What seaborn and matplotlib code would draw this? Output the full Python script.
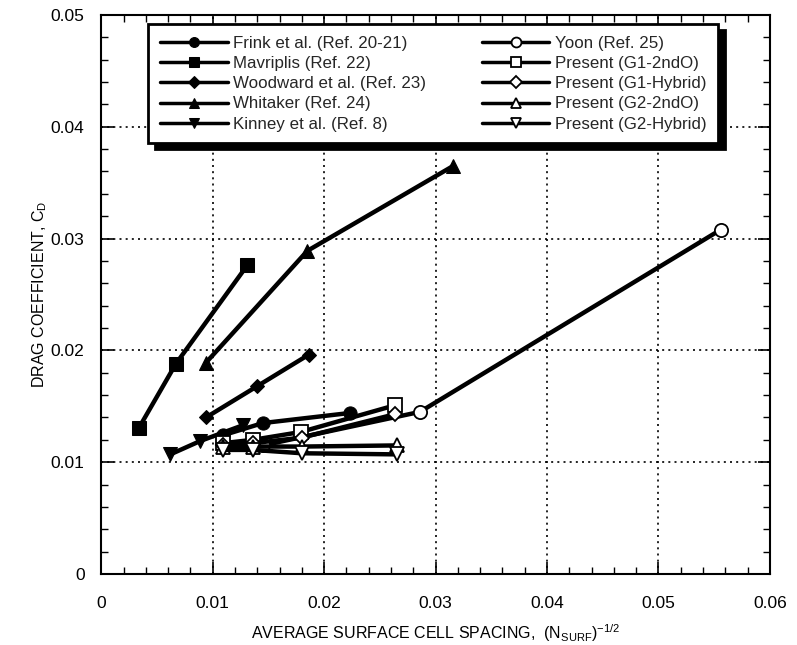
import matplotlib
matplotlib.use("Agg")
import matplotlib.pyplot as plt
import seaborn as sns
import numpy as np

# Drag coefficient vs. average surface cell spacing, (N_surf)^-1/2
frink_x = [0.0109, 0.0145, 0.0223]
frink_y = [0.0124, 0.0135, 0.0144]

mavriplis_x = [0.0034, 0.0067, 0.0131]
mavriplis_y = [0.0131, 0.0188, 0.0276]

woodward_x = [0.0094, 0.0140, 0.0186]
woodward_y = [0.0140, 0.0168, 0.0196]

whitaker_x = [0.0094, 0.0185, 0.0316]
whitaker_y = [0.0189, 0.0289, 0.0365]

kinney_x = [0.0062, 0.0089, 0.0127]
kinney_y = [0.0107, 0.0119, 0.0133]

yoon_x = [0.0145, 0.0286, 0.0556]
yoon_y = [0.0115, 0.0145, 0.0308]

g1_2nd_x = [0.0109, 0.0136, 0.0179, 0.0264]
g1_2nd_y = [0.0117, 0.0120, 0.0127, 0.0151]

g1_hyb_x = [0.0109, 0.0136, 0.0180, 0.0264]
g1_hyb_y = [0.0115, 0.0117, 0.0122, 0.0143]

g2_2nd_x = [0.0109, 0.0136, 0.0180, 0.0265]
g2_2nd_y = [0.0114, 0.0114, 0.0114, 0.0115]

g2_hyb_x = [0.0109, 0.0136, 0.0180, 0.0265]
g2_hyb_y = [0.0111, 0.0111, 0.0108, 0.0107]

x_ticks = [0, 0.01, 0.02, 0.03, 0.04, 0.05, 0.06]
y_ticks = [0, 0.01, 0.02, 0.03, 0.04, 0.05]
x_ticklabels = ["0", "0.01", "0.02", "0.03", "0.04", "0.05", "0.06"]
y_ticklabels = ["0", "0.01", "0.02", "0.03", "0.04", "0.05"]

series = [
    ("Frink et al. (Ref. 20-21)", frink_x, frink_y, "o", True),
    ("Mavriplis (Ref. 22)", mavriplis_x, mavriplis_y, "s", True),
    ("Woodward et al. (Ref. 23)", woodward_x, woodward_y, "D", True),
    ("Whitaker (Ref. 24)", whitaker_x, whitaker_y, "^", True),
    ("Kinney et al. (Ref. 8)", kinney_x, kinney_y, "v", True),
    ("Yoon (Ref. 25)", yoon_x, yoon_y, "o", False),
    ("Present (G1-2ndO)", g1_2nd_x, g1_2nd_y, "s", False),
    ("Present (G1-Hybrid)", g1_hyb_x, g1_hyb_y, "D", False),
    ("Present (G2-2ndO)", g2_2nd_x, g2_2nd_y, "^", False),
    ("Present (G2-Hybrid)", g2_hyb_x, g2_hyb_y, "v", False),
]

sns.set_theme(style="ticks")
plt.rcParams["font.family"] = ["Liberation Sans", "DejaVu Sans"]
plt.rcParams["mathtext.fontset"] = "custom"
plt.rcParams["mathtext.rm"] = "Liberation Sans"
plt.rcParams["mathtext.it"] = "Liberation Sans"

fig = plt.figure(figsize=(7.97, 6.45), dpi=100)
ax = fig.add_axes([0.127, 0.110, 0.839, 0.867])

for label, xs, ys, mk, filled in series:
    small = mk == "D"
    ms = 7.5 if small else 9.5
    if filled:
        kw = dict(markerfacecolor="black", markeredgecolor="black")
    else:
        kw = dict(markerfacecolor="white", markeredgecolor="black", markeredgewidth=1.3)
    sns.lineplot(x=xs, y=ys, ax=ax, color="black", linewidth=3.2,
                 marker=mk, markersize=ms, label=label, sort=False,
                 zorder=3 if filled else 4, **kw)

ax.set_xlim(0, 0.06)
ax.set_ylim(0, 0.05)
ax.set_xticks(x_ticks)
ax.set_xticklabels(x_ticklabels)
ax.set_yticks(y_ticks)
ax.set_yticklabels(y_ticklabels)
ax.set_xticks(np.arange(0, 0.0601, 0.002), minor=True)
ax.set_yticks(np.arange(0, 0.0501, 0.002), minor=True)
ax.tick_params(which="both", direction="in", top=True, right=True, colors="black",
               labelsize=12.5)
ax.tick_params(which="major", length=9, width=1.2)
ax.tick_params(axis="x", which="major", pad=16)
ax.tick_params(axis="y", which="major", pad=12)
ax.tick_params(which="minor", length=5, width=1.0)
ax.grid(True, which="major", linestyle=(0, (1.2, 2.5)), color="black", linewidth=1.2)
for sp in ax.spines.values():
    sp.set_color("black")
    sp.set_linewidth(1.5)

ax.set_xlabel("AVERAGE SURFACE CELL SPACING,  (N$_{\\mathrm{SURF}}$)$^{\\mathrm{-1/2}}$",
              fontsize=11.5, labelpad=8, color="black")
ax.set_ylabel("DRAG COEFFICIENT, C$_{\\mathrm{D}}$", fontsize=11.5, labelpad=1,
              color="black")

leg = ax.legend(ncol=2, loc="upper left", bbox_to_anchor=(0.07, 0.983),
                borderaxespad=0, fontsize=12.2, handlelength=4.0, handletextpad=0.3,
                columnspacing=3.3, labelspacing=0.3, frameon=True, fancybox=False,
                markerscale=0.75,
                shadow={"ox": 5, "oy": -4, "color": "black", "alpha": 1.0},
                borderpad=0.7)
leg.get_frame().set_edgecolor("black")
leg.get_frame().set_linewidth(2.0)
leg.get_frame().set_facecolor("white")
leg.get_frame().set_alpha(1.0)
leg.set_zorder(10)
for line in leg.get_lines():
    line.set_linewidth(2.5)

fig.savefig("out.png", dpi=100)
